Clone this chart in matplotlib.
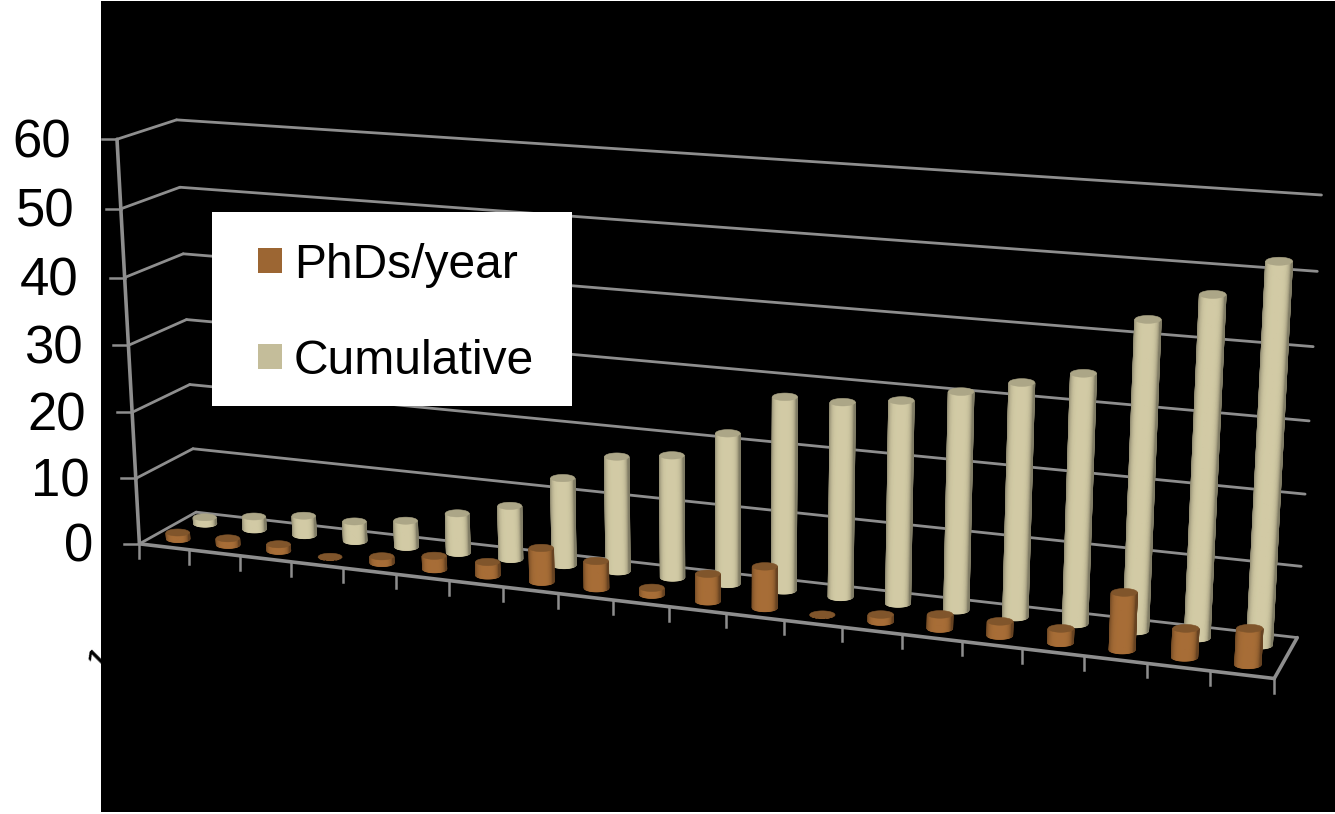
"""PhDs per year and cumulative, drawn as a PowerPoint style 3D cylinder chart."""

import matplotlib
matplotlib.use("Agg")
import matplotlib.pyplot as plt
import numpy as np
from matplotlib.colors import LinearSegmentedColormap, to_rgb
from matplotlib.patches import Polygon, Rectangle

phds_per_year = [1, 1, 1, 0, 1, 2, 2, 5, 4, 1, 4, 6, 0, 1, 2, 2, 2, 8, 4, 5]
cumulative = [1, 2, 3, 3, 4, 6, 8, 13, 17, 18, 22, 28, 28, 29, 31, 33, 35, 43, 47, 52]
value_ticks = [0, 10, 20, 30, 40, 50, 60]
series_names = ["PhDs/year", "Cumulative"]

BROWN = "#9C6633"
CREAM = "#C4BD9A"
GRID = "#8E8E8E"
V_MAX = 60.0
N_CAT = len(phds_per_year)

# corners of the box as seen on screen: (category, depth, value) -> pixel
anchors = [
    ((0, 0, 0), (139, 544)), ((1, 0, 0), (1274, 679)),
    ((0, 1, 0), (196, 512)), ((1, 1, 0), (1297, 637)),
    ((0, 0, 1), (117, 139)), ((0, 1, 1), (176, 120)),
    ((1, 1, 1), (1321, 195)), ((1, 1, 0.5), (1310, 421)),
    ((0, 0, 0.5), (129, 345)), ((0, 1, 0.5), (187, 320)),
]


def fit_camera():
    rows, rhs = [], []
    for (a, b, c), (u, v) in anchors:
        rows.append([a, b, c, 1, 0, 0, 0, 0, -u * a, -u * b, -u * c])
        rows.append([0, 0, 0, 0, a, b, c, 1, -v * a, -v * b, -v * c])
        rhs += [u, v]
    sol = np.linalg.lstsq(np.array(rows, float), np.array(rhs, float), rcond=None)[0]
    return np.append(sol, 1.0).reshape(3, 4)


CAM = fit_camera()


def project(cat, depth, value):
    p = CAM @ np.array([cat, depth, value / V_MAX, 1.0])
    return p[:2] / p[2]


def shade_map(color):
    rgb = np.array(to_rgb(color))
    return LinearSegmentedColormap.from_list("shade", [rgb * 0.66, np.clip(rgb * 1.07, 0, 1)])


def cylinder(ax, slot, depth, value, cmap, cap, zorder=3):
    xc = (slot + 0.5) / N_CAT
    dx = (0.235 - 0.03 * xc) / N_CAT
    base, top = project(xc, depth, 0), project(xc, depth, value)
    half_b = (project(xc + dx, depth, 0) - project(xc - dx, depth, 0))[0] / 2
    half_t = (project(xc + dx, depth, value) - project(xc - dx, depth, value))[0] / 2

    theta = np.linspace(np.pi, 0, 41)
    xs = np.vstack([base[0] + half_b * np.cos(theta), top[0] + half_t * np.cos(theta)])
    ys = np.vstack([base[1] + 0.3 * half_b * np.sin(theta), top[1] + 0.3 * half_t * np.sin(theta)])
    u = np.cos(theta)
    light = 1 - np.abs(u + 0.05) ** 5
    ax.pcolormesh(xs, ys, np.vstack([light, light]), shading="gouraud", cmap=cmap,
                  vmin=0, vmax=1, zorder=zorder)

    ring = np.linspace(0, 2 * np.pi, 48)
    cap_xy = np.c_[top[0] + half_t * np.cos(ring), top[1] + 0.3 * half_t * np.sin(ring)]
    ax.add_patch(Polygon(cap_xy, closed=True, facecolor=cap, edgecolor=cap,
                         linewidth=0.4, zorder=zorder + 0.1))


def box_line(ax, start, end, lw=2.0, zorder=2):
    p, q = project(*start), project(*end)
    ax.plot([p[0], q[0]], [p[1], q[1]], color=GRID, lw=lw, zorder=zorder,
            solid_capstyle="round")


def main():
    plt.rcParams["font.family"] = ["Liberation Sans", "DejaVu Sans"]
    fig = plt.figure(figsize=(13.35, 8.14), dpi=100, facecolor="white")
    ax = fig.add_axes([0, 0, 1, 1])

    ax.add_patch(Rectangle((101, 1), 1234, 811, facecolor="black", edgecolor="none", zorder=1))

    # walls and floor
    for v in value_ticks:
        box_line(ax, (0, 0, v), (0, 1, v))
        box_line(ax, (0, 1, v), (1, 1, v))
        p = project(0, 0, v)
        ax.plot([p[0] - 15, p[0]], [p[1], p[1]], color=GRID, lw=1.8, zorder=2)
        ax.text(p[0] - 46, p[1] + 4, str(v), ha="right", va="center", fontsize=38,
                color="black", zorder=0)
    box_line(ax, (0, 0, 0), (0, 0, V_MAX), lw=2.6)
    box_line(ax, (0, 0, 0), (1, 0, 0), lw=2.6)
    box_line(ax, (1, 0, 0), (1, 1, 0), lw=2.6)
    for i in range(N_CAT + 1):
        p = project(i / N_CAT, 0, 0)
        ax.plot([p[0], p[0]], [p[1], p[1] + 14], color=GRID, lw=1.8, zorder=2)

    # cylinders, back row first
    cream_map, brown_map = shade_map(CREAM), shade_map(BROWN)
    for i, v in enumerate(cumulative):
        cylinder(ax, i, 0.72, v, cream_map, "#ACA687", zorder=3)
    for i, v in enumerate(phds_per_year):
        cylinder(ax, i, 0.24, v, brown_map, "#80552B", zorder=4)

    # the year labels are black on black, only the first one peeks out
    ax.text(101, 662, "1", rotation=45, ha="center", va="center", fontsize=27,
            color="black", zorder=0)

    # legend
    ax.add_patch(Rectangle((212, 212), 360, 194, facecolor="white", edgecolor="none", zorder=6))
    for name, col, y in zip(series_names, [BROWN, CREAM], [261, 357]):
        ax.add_patch(Rectangle((258, y - 13), 24, 25, facecolor=col, edgecolor="none", zorder=7))
        ax.text(294, y + 4, name, ha="left", va="center", fontsize=34.6, color="black", zorder=7)

    ax.set_xlim(0, 1335)
    ax.set_ylim(814, 0)
    ax.axis("off")
    fig.savefig("out.png", dpi=100)
    plt.close(fig)


if __name__ == "__main__":
    main()
